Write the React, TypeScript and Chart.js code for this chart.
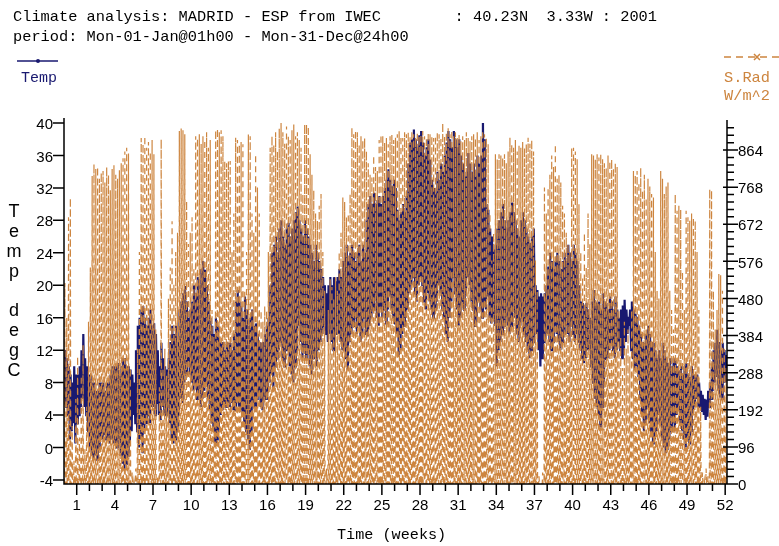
import React, { useEffect, useRef } from "react";
import { Chart, registerables } from "chart.js";
Chart.register(...registerables);

// Daily maximum temperature (degC), day 1..365 (week by week)
const tempMax = [
  12, 11, 10, 9, 8, 10, 9,
  9, 10, 12, 14, 11, 10, 9,
  9, 8, 8, 7, 7, 8, 8,
  8, 7, 8, 8, 9, 10, 10,
  10, 10.4, 9, 10, 11, 11, 10,
  10, 9.6, 9, 8, 12, 15, 16,
  17, 17.4, 16, 15, 16, 17, 15,
  15.3, 14, 12, 10, 12.9, 11, 10,
  9.6, 11, 13, 15, 14, 15, 13,
  17, 18, 19, 19.9, 18, 16, 17,
  18, 20, 19, 21, 20, 22, 23,
  21.9, 20, 18, 16, 15, 14, 16,
  15, 13, 12.9, 13, 12, 13, 12.9,
  12.9, 12, 14, 18, 19.4, 18, 17.4,
  16, 18.6, 17, 15, 16, 17, 15,
  15.3, 14, 13, 12.9, 13, 14, 15,
  16, 20, 24, 25, 26, 24, 27,
  28, 26, 25, 27, 27.7, 26, 27,
  28, 29, 29.7, 28, 27, 26, 28,
  27, 26, 25, 24, 23, 25, 24,
  23, 22, 21, 20, 19, 20, 21,
  20, 21, 20.5, 21, 22, 21, 23,
  24, 25, 23, 24, 25, 24, 23,
  24, 25, 23, 25, 24, 28, 30,
  31, 30, 31.4, 30, 30.5, 31, 30,
  31, 32, 33, 34.3, 33, 32.2, 33,
  32, 29.3, 28, 29, 30, 29, 31,
  35, 37.6, 38, 39.2, 38, 37, 38.5,
  39, 37.6, 36, 37, 38, 35.5, 33,
  32, 31.4, 34, 33, 35, 34, 36,
  37.6, 39, 38, 37, 39, 38, 37,
  38, 36, 35, 33.4, 34, 36.3, 35,
  34, 35, 33.4, 36, 35, 36, 40.6,
  38, 30, 29.3, 27, 26, 24.4, 25,
  27, 28, 29, 30, 28, 27, 28,
  29, 30.2, 29, 28, 27, 26, 28,
  29, 28, 27, 26, 25.2, 26, 27,
  20, 19.4, 18.6, 19, 18.6, 19, 20,
  22.3, 24, 23, 22, 23, 24, 23,
  22, 23, 24, 23, 25, 24, 23,
  25, 24, 23, 20, 18, 17.8, 17,
  17.8, 17, 16, 18, 19.4, 18, 17.8,
  18, 17, 19, 18, 17.8, 17, 18.6,
  18, 17, 18.6, 17, 16, 17, 17.5,
  18.2, 17, 16.1, 17, 18, 17, 16.5,
  16.1, 15, 14, 13, 12.9, 14, 15,
  14, 13, 12.9, 12, 11, 12, 11,
  12.9, 12, 11, 10.4, 11, 10, 11,
  10.8, 10, 9.5, 10, 9, 10, 10.4,
  9, 8.7, 10, 9, 8.7, 9, 8,
  7, 6.5, 6, 5.9, 7, 8, 10,
  12, 12.9, 14.5, 13, 12, 12.9, 12,
  11.4,
];

// Daily minimum temperature (degC)
const tempMin = [
  6, 5, 4, 1, 2, 3, 0.5,
  3, 4, 5, 6, 5, 4, 2,
  0, -1, -1.5, -1, -1.5, 0, 1,
  1, 1.5, 1, 1.3, 0.5, 1, 0.5,
  0.5, 0, 1, -1, -2, -2.8, -2,
  -1, 0.5, 2, 4, 3, 2, 0,
  1, -0.7, 2, 3, 4, 3, 5,
  5, 4, 5.5, 4, 3.4, 5, 4,
  4, 5, 3, 1, 0.5, 1, 2,
  4, 6, 5.5, 8, 9, 10.8, 9,
  8, 7, 8, 6, 7, 5, 6,
  7, 8, 6, 4.6, 3, 2, 0.5,
  1, 2.2, 4, 4.6, 5.5, 5, 5.5,
  5, 5.5, 4.6, 4.6, 6, 5, 4.6,
  4, 3, 2, 1, -0.3, 2, 5.4,
  5, 6, 6.7, 5, 4.6, 6, 6,
  6.7, 8, 9, 7, 10, 11, 12,
  12.9, 11, 10, 12, 12, 10, 9,
  8, 10, 12, 15, 13, 11, 12,
  11, 12, 10, 9, 11, 12, 10,
  12, 13, 14, 15, 14, 13, 14,
  13, 12, 14, 15, 14, 13, 12,
  12, 11, 9.6, 13, 14, 15, 16,
  14, 15, 13, 14, 16, 14, 13.7,
  15, 16, 17, 18.6, 16, 15, 17,
  16, 17, 15.3, 17, 18.6, 17, 16,
  15.3, 14, 11.2, 12, 14, 15, 16,
  17, 19, 20, 21, 19, 18, 20,
  21, 20, 18, 17, 19, 18, 17,
  16, 17, 18, 20, 19, 17, 16,
  14, 13, 16, 18, 21, 19, 17,
  15, 16, 18, 17, 19, 21, 20,
  18, 17, 15, 16, 18, 17, 16,
  18, 17, 18.6, 16, 15.3, 16, 15,
  10, 12, 13, 14, 15, 16, 15,
  14, 15, 17, 16, 14, 13, 15,
  16, 14, 13, 12, 11, 12, 13,
  16, 14, 12, 10, 11, 13, 14,
  14, 13, 12, 13, 15, 14, 13,
  12, 13, 14, 15, 14, 13, 15,
  14, 13, 14, 12.9, 12, 11, 10.4,
  11, 12, 12, 10, 8, 6, 5,
  4, 2.6, 5, 8, 10.8, 11, 12,
  12.9, 12, 11, 12, 13, 12, 11,
  12, 13, 14, 15, 12, 11, 9.6,
  10, 8.7, 6, 4, 2, 3, 5,
  3, 2, 0.5, 1, 2, 4, 3,
  1, 0, -0.7, -0.3, 1, 2, 3,
  2, 4, 4.6, 3, 2.2, 1, 0,
  1, 0.5, 2, 4, 5, 6, 5,
  5, 4.5, 4, 3.4, 3.8, 5, 6,
  7, 8, 8.7, 7, 6.3, 6, 8,
  8,
];

// Daily peak solar radiation (W/m^2)
const radPeak = [
  520, 430, 690, 740, 150, 60, 220,
  330, 120, 280, 360, 90, 200, 420,
  560, 797, 828, 815, 820, 790, 805,
  810, 780, 820, 800, 760, 815, 825,
  800, 790, 812, 830, 843, 860, 870,
  855, 300, 30, 10, 40, 350, 600,
  895, 880, 900, 870, 885, 860, 890,
  853, 400, 20, 250, 892, 300, 350,
  280, 480, 560, 680, 520, 600, 650,
  913, 920, 915, 905, 732, 621, 650,
  690, 560, 900, 895, 905, 880, 900,
  890, 910, 870, 890, 450, 380, 915,
  920, 910, 915, 900, 836, 830, 836,
  836, 600, 700, 896, 890, 879, 885,
  879, 500, 600, 904, 900, 700, 650,
  853, 767, 700, 449, 420, 460, 449,
  600, 870, 900, 880, 910, 861, 920,
  939, 910, 880, 925, 900, 890, 915,
  930, 900, 910, 890, 870, 750, 930,
  930, 925, 853, 800, 760, 700, 681,
  720, 750, 600, 500, 40, 450, 530,
  510, 480, 535, 500, 600, 650, 741,
  730, 690, 700, 750, 922, 905, 915,
  910, 879, 900, 890, 895, 861, 830,
  800, 793, 850, 820, 810, 890, 904,
  900, 885, 895, 879, 900, 904, 890,
  896, 905, 913, 900, 895, 910, 905,
  910, 900, 913, 905, 896, 910, 900,
  905, 913, 900, 896, 910, 905, 900,
  895, 900, 910, 905, 896, 947, 900,
  910, 922, 905, 915, 900, 910, 895,
  905, 887, 900, 890, 910, 895, 887,
  900, 905, 895, 910, 890, 900, 915,
  905, 895, 880, 700, 578, 650, 853,
  840, 853, 850, 845, 853, 830, 860,
  896, 880, 870, 890, 860, 875, 870,
  885, 870, 880, 896, 880, 890, 860,
  578, 500, 20, 0, 30, 767, 700,
  767, 800, 850, 820, 879, 790, 800,
  780, 720, 700, 650, 621, 600, 870,
  870, 860, 840, 724, 600, 535, 650,
  560, 700, 620, 853, 850, 840, 853,
  845, 853, 840, 830, 818, 850, 836,
  840, 818, 830, 820, 450, 380, 300,
  420, 350, 400, 330, 450, 810, 800,
  810, 780, 818, 760, 800, 741, 790,
  770, 750, 741, 600, 500, 480, 810,
  790, 750, 770, 780, 500, 450, 400,
  750, 707, 720, 710, 550, 450, 707,
  690, 681, 700, 690, 681, 600, 450,
  200, 30, 10, 40, 20, 763, 760,
  500, 400, 450, 543, 540, 500, 350,
  300,
];

const weekNumbers = [
  1, 2, 3, 4, 5, 6, 7, 8, 9, 10, 11, 12, 13, 14, 15, 16, 17, 18, 19, 20, 21, 22, 23, 24, 25, 26,
  27, 28, 29, 30, 31, 32, 33, 34, 35, 36, 37, 38, 39, 40, 41, 42, 43, 44, 45, 46, 47, 48, 49, 50, 51, 52,
];
const weekLabels = [1, 4, 7, 10, 13, 16, 19, 22, 25, 28, 31, 34, 37, 40, 43, 46, 49, 52];
const tempTicks = [-4, 0, 4, 8, 12, 16, 20, 24, 28, 32, 36, 40];
const radTicks = [0, 96, 192, 288, 384, 480, 576, 672, 768, 864];

const headerLine1 = "Climate analysis: MADRID - ESP from IWEC        : 40.23N  3.33W : 2001";
const headerLine2 = "period: Mon-01-Jan@01h00 - Mon-31-Dec@24h00";
const tempTitle = "Temp degC";

const NAVY = "#191970";
const ORANGE = "#cd853f";
const MONO = '"Liberation Mono", "DejaVu Sans Mono", monospace';
const SANS = '"Liberation Sans", Arial, sans-serif';

function monoText(ctx: CanvasRenderingContext2D, text: string, x: number, y: number, color: string, charW: number) {
  ctx.save();
  ctx.font = `15px ${MONO}`;
  const w = ctx.measureText(text).width;
  ctx.translate(x, y);
  ctx.scale((text.length * charW) / w, 1);
  ctx.fillStyle = color;
  ctx.textBaseline = "middle";
  ctx.textAlign = "left";
  ctx.fillText(text, 0, 0);
  ctx.restore();
}

const decorPlugin = {
  id: "decor",
  afterDatasetsDraw(chart: any) {
    const ctx: CanvasRenderingContext2D = chart.ctx;
    const area = chart.chartArea;
    const xs = chart.scales.x;
    const yl = chart.scales.y;
    const yr = chart.scales.y2;
    ctx.save();
    ctx.strokeStyle = "#000";
    ctx.lineWidth = 1.5;
    ctx.setLineDash([]);
    ctx.beginPath();
    ctx.moveTo(area.left, area.top - 5);
    ctx.lineTo(area.left, area.bottom);
    ctx.lineTo(area.right, area.bottom);
    ctx.moveTo(area.right, area.top - 3);
    ctx.lineTo(area.right, area.bottom);
    tempTicks.forEach((v) => {
      const y = yl.getPixelForValue(v);
      ctx.moveTo(area.left - 11, y);
      ctx.lineTo(area.left, y);
    });
    const minor = radTicks[1] / 5;
    for (let i = 0; i * minor <= yr.max; i++) {
      const v = i * minor;
      const y = yr.getPixelForValue(v);
      if (i % 5 === 0) {
        ctx.moveTo(area.right - 4, y);
        ctx.lineTo(area.right + 11, y);
      } else {
        ctx.moveTo(area.right, y);
        ctx.lineTo(area.right + 7, y);
      }
    }
    weekNumbers.forEach((w) => {
      const x = xs.getPixelForValue(w * 7);
      ctx.moveTo(x, area.bottom);
      ctx.lineTo(x, area.bottom + (weekLabels.includes(w) ? 11 : 7));
    });
    ctx.stroke();

    monoText(ctx, headerLine1, 13, 17, "#000", 9.2);
    monoText(ctx, headerLine2, 13, 37, "#000", 9.2);

    ctx.strokeStyle = NAVY;
    ctx.lineWidth = 1.5;
    ctx.beginPath();
    ctx.moveTo(17, 61);
    ctx.lineTo(58, 61);
    ctx.stroke();
    ctx.fillStyle = NAVY;
    ctx.beginPath();
    ctx.arc(38, 61, 2, 0, Math.PI * 2);
    ctx.fill();
    monoText(ctx, "Temp", 21, 78, NAVY, 9.0);

    ctx.strokeStyle = ORANGE;
    ctx.lineWidth = 1.5;
    ctx.setLineDash([7, 5]);
    ctx.beginPath();
    ctx.moveTo(724, 57);
    ctx.lineTo(779, 57);
    ctx.stroke();
    ctx.setLineDash([]);
    ctx.beginPath();
    ctx.moveTo(754, 54);
    ctx.lineTo(760, 60);
    ctx.moveTo(760, 54);
    ctx.lineTo(754, 60);
    ctx.stroke();
    monoText(ctx, "S.Rad", 724, 78, ORANGE, 9.2);
    monoText(ctx, "W/m^2", 724, 96, ORANGE, 9.2);

    monoText(ctx, "Time (weeks)", 337, 535, "#000", 9.1);

    ctx.fillStyle = "#000";
    ctx.font = `18px ${SANS}`;
    ctx.textAlign = "center";
    ctx.textBaseline = "middle";
    tempTitle.split("").forEach((ch, i) => {
      if (ch !== " ") ctx.fillText(ch, 14, 212 + i * 19.9);
    });
    ctx.restore();
  },
};

export default function App() {
  const ref = useRef<HTMLCanvasElement | null>(null);
  useEffect(() => {
    if (!ref.current) return;
    const tempPts: { x: number; y: number }[] = [];
    tempMin.forEach((lo, d) => {
      tempPts.push({ x: d + 0.27, y: lo });
      tempPts.push({ x: d + 0.63, y: tempMax[d] });
    });
    // night (zero) at midnight, sunrise and sunset; the daily peak at noon
    const radPts: { x: number; y: number }[] = [];
    radPeak.forEach((pk, d) => {
      radPts.push({ x: d, y: 0 });
      radPts.push({ x: d + 0.28, y: 0 });
      radPts.push({ x: d + 0.5, y: pk });
      radPts.push({ x: d + 0.72, y: 0 });
    });
    radPts.push({ x: radPeak.length, y: 0 });

    const tickFont = { family: SANS, size: 15 };
    const chart = new Chart(ref.current, {
      type: "line",
      data: {
        datasets: [
          {
            label: "Temp",
            data: tempPts,
            yAxisID: "y",
            borderColor: NAVY,
            borderWidth: 2.2,
            pointRadius: 0,
            tension: 0,
            fill: false,
            order: 2,
          },
          {
            label: "S.Rad",
            data: radPts,
            yAxisID: "y2",
            borderColor: ORANGE,
            borderWidth: 1.2,
            borderDash: [6, 4],
            pointRadius: (c: any) => {
              const p = c.raw;
              return p && p.y === 0 && p.x > 0 && p.x % 7 === 0 ? 3.5 : 0;
            },
            pointStyle: "crossRot",
            pointBorderColor: ORANGE,
            pointBorderWidth: 1.3,
            pointHoverRadius: 0,
            tension: 0,
            fill: false,
            order: 1,
          },
        ],
      },
      options: {
        animation: false,
        responsive: false,
        devicePixelRatio: 1,
        events: [],
        layout: { padding: { top: 123, left: 0, right: 0, bottom: 0 } },
        plugins: { legend: { display: false }, tooltip: { enabled: false }, title: { display: false } },
        scales: {
          x: {
            type: "linear",
            position: "bottom",
            min: 0,
            max: 365,
            afterBuildTicks: (s: any) => {
              s.ticks = weekNumbers.map((w) => ({ value: w * 7 }));
            },
            afterFit: (s: any) => {
              s.height = 62;
            },
            ticks: {
              autoSkip: false,
              maxRotation: 0,
              minRotation: 0,
              padding: 13,
              color: "#000",
              font: tickFont,
              callback: (v: any) => (weekLabels.includes(v / 7) ? String(v / 7) : ""),
            },
            grid: { display: false, drawTicks: false },
            border: { display: false },
          },
          y: {
            type: "linear",
            position: "left",
            min: -4.5,
            max: 40,
            afterBuildTicks: (s: any) => {
              s.ticks = tempTicks.map((v) => ({ value: v }));
            },
            afterFit: (s: any) => {
              s.width = 64;
            },
            ticks: { padding: 11, color: "#000", font: tickFont, labelOffset: 2 },
            grid: { display: false, drawTicks: false },
            border: { display: false },
          },
          y2: {
            type: "linear",
            position: "right",
            min: 0,
            max: 934,
            afterBuildTicks: (s: any) => {
              s.ticks = radTicks.map((v) => ({ value: v }));
            },
            afterFit: (s: any) => {
              s.width = 52;
            },
            ticks: { padding: 11, color: "#000", font: tickFont, labelOffset: 2 },
            grid: { display: false, drawTicks: false },
            border: { display: false },
          },
        },
      },
      plugins: [decorPlugin],
    } as any);
    return () => chart.destroy();
  }, []);

  return (
    <div style={{ position: "absolute", left: 0, top: 0, width: 779, height: 546, background: "#fff" }}>
      <canvas ref={ref} width={779} height={546} style={{ display: "block", width: 779, height: 546 }} />
    </div>
  );
}
